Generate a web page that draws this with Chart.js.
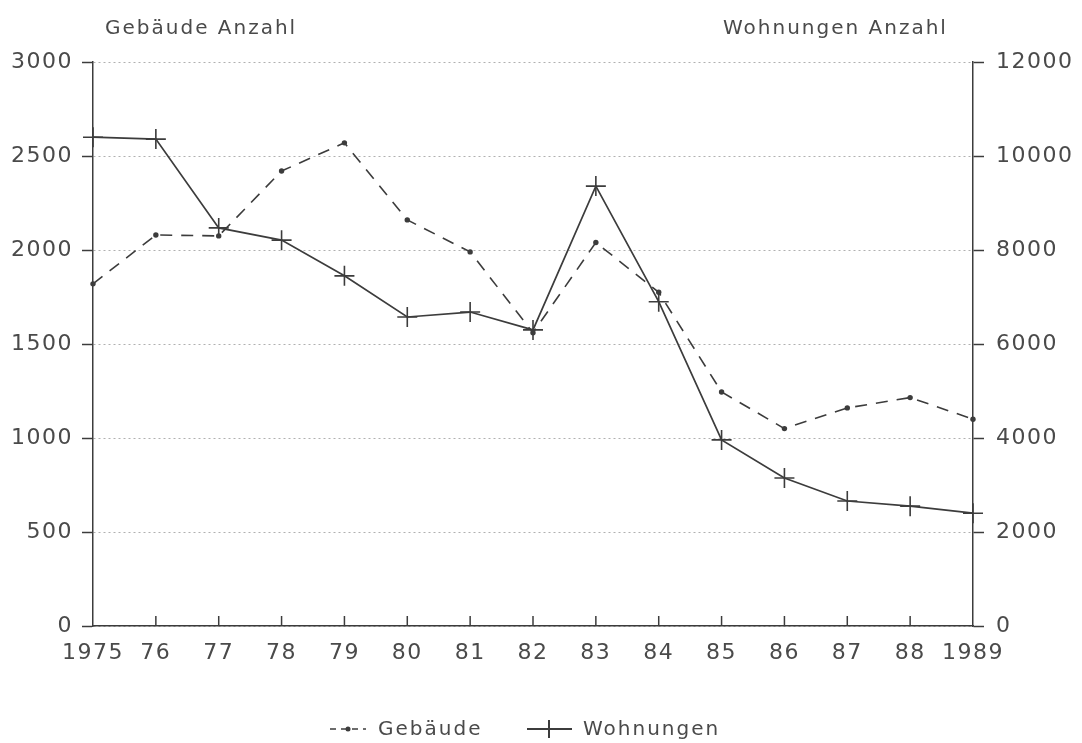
<!DOCTYPE html>
<html>
<head>
<meta charset="utf-8">
<title>Gebäude und Wohnungen 1975-1989</title>
<script src="https://cdn.jsdelivr.net/npm/chart.js@4.4.1/dist/chart.umd.min.js"></script>
<style>
    body { margin: 0; background: #fff; }
    canvas { display: block; }
</style>
</head>
<body>
<canvas id="myChart" width="1082" height="743"></canvas>
<script>

// values
const years = ['1975', '76', '77', '78', '79', '80', '81', '82', '83', '84', '85', '86', '87', '88', '1989']
const gebaeude = [1820, 2080, 2075, 2420, 2570, 2160, 1990, 1560, 2040, 1775, 1245, 1050, 1160, 1215, 1100]
const wohnungen = [10400, 10360, 8470, 8210, 7450, 6575, 6680, 6300, 9360, 6900, 3960, 3150, 2660, 2550, 2400]
const leftTicks = [0, 500, 1000, 1500, 2000, 2500, 3000]
const rightTicks = [0, 2000, 4000, 6000, 8000, 10000, 12000]

const ink = '#3c3c3c'
const textColor = '#4a4a4a'
const fontFamily = '"DejaVu Sans", sans-serif'

Chart.defaults.font.family = fontFamily
Chart.defaults.color = textColor

const spacing = (chart) => {
    chart.ctx.letterSpacing = '1.5px'
}

const extras = {
    id: 'extras',
    beforeUpdate: (chart) => spacing(chart),
    beforeDraw: (chart) => {
        const ctx = chart.ctx
        ctx.save()
        ctx.fillStyle = '#fff'
        ctx.fillRect(0, 0, chart.width, chart.height)
        ctx.restore()
        spacing(chart)
    },
    afterDraw: (chart) => {
        const ctx = chart.ctx
        const x = chart.scales.x
        const area = chart.chartArea

        ctx.save()
        ctx.letterSpacing = '2px'

        // inward tick marks on the x axis
        ctx.strokeStyle = ink
        ctx.lineWidth = 1.5
        years.forEach((y, i) => {
            if (i === 0 || i === years.length - 1) return
            const px = x.getPixelForValue(i)
            ctx.beginPath()
            ctx.moveTo(px, area.bottom)
            ctx.lineTo(px, area.bottom - 10)
            ctx.stroke()
        })

        // axis titles
        ctx.fillStyle = textColor
        ctx.font = '20px ' + fontFamily
        ctx.textBaseline = 'alphabetic'
        ctx.textAlign = 'left'
        ctx.fillText('Gebäude Anzahl', 105, 34)
        ctx.fillText('Wohnungen Anzahl', 723, 34)

        // legend
        const ly = 729
        ctx.lineWidth = 1.5
        ctx.setLineDash([6, 5])
        ctx.beginPath()
        ctx.moveTo(330, ly)
        ctx.lineTo(366, ly)
        ctx.stroke()
        ctx.setLineDash([])
        ctx.fillStyle = ink
        ctx.beginPath()
        ctx.arc(348, ly, 2.5, 0, Math.PI * 2)
        ctx.fill()

        ctx.lineWidth = 2
        ctx.beginPath()
        ctx.moveTo(527, ly)
        ctx.lineTo(572, ly)
        ctx.moveTo(549, ly - 9)
        ctx.lineTo(549, ly + 9)
        ctx.stroke()

        ctx.fillStyle = textColor
        ctx.textBaseline = 'middle'
        ctx.fillText('Gebäude', 378, ly + 1)
        ctx.fillText('Wohnungen', 583, ly + 1)
        ctx.restore()
    }
}

const data = {
    labels: years,
    datasets: [{
        label: 'Gebäude',
        data: gebaeude,
        yAxisID: 'y',
        borderColor: ink,
        backgroundColor: ink,
        borderWidth: 1.6,
        borderDash: [12, 9],
        pointStyle: 'circle',
        pointRadius: 2.7,
        pointBorderWidth: 0,
        tension: 0,
        clip: false
    }, {
        label: 'Wohnungen',
        data: wohnungen,
        yAxisID: 'y1',
        borderColor: ink,
        backgroundColor: ink,
        borderWidth: 1.7,
        pointStyle: 'cross',
        pointRadius: 10,
        pointBorderWidth: 1.6,
        tension: 0,
        clip: false
    }]
}

const tickFont = { size: 22 }
const plain = (value) => String(value)

const config = {
    type: 'line',
    data: data,
    plugins: [extras],
    options: {
        responsive: false,
        animation: false,
        events: [],
        layout: {
            padding: { top: 62, left: 0, right: 0, bottom: 0 }
        },
        plugins: {
            legend: { display: false },
            tooltip: { enabled: false }
        },
        scales: {
            x: {
                type: 'category',
                offset: false,
                afterFit: (scale) => { scale.height = 117 },
                grid: {
                    drawOnChartArea: false,
                    drawTicks: false
                },
                border: { color: ink, width: 1.5 },
                ticks: {
                    font: tickFont,
                    color: textColor,
                    padding: 14,
                    maxRotation: 0,
                    autoSkip: false
                }
            },
            y: {
                position: 'left',
                min: 0,
                max: 3000,
                afterFit: (scale) => { scale.width = 93 },
                afterBuildTicks: (scale) => {
                    scale.ticks = leftTicks.map(v => ({ value: v }))
                },
                grid: {
                    color: '#b0b0b0',
                    lineWidth: 1,
                    tickColor: ink,
                    tickWidth: 1.5,
                    tickLength: 11,
                    tickBorderDash: []
                },
                border: { color: ink, width: 1.5, dash: [2, 3] },
                ticks: {
                    font: tickFont,
                    color: textColor,
                    padding: 9,
                    callback: plain
                }
            },
            y1: {
                position: 'right',
                min: 0,
                max: 12000,
                afterFit: (scale) => { scale.width = 109 },
                afterBuildTicks: (scale) => {
                    scale.ticks = rightTicks.map(v => ({ value: v }))
                },
                grid: {
                    drawOnChartArea: false,
                    tickColor: ink,
                    tickWidth: 1.5,
                    tickLength: 11
                },
                border: { color: ink, width: 1.5 },
                ticks: {
                    font: tickFont,
                    color: textColor,
                    padding: 12,
                    callback: plain
                }
            }
        }
    }
}

let chartCanvas = new Chart(
    document.querySelector('#myChart'),
    config
)

</script>
</body>
</html>
